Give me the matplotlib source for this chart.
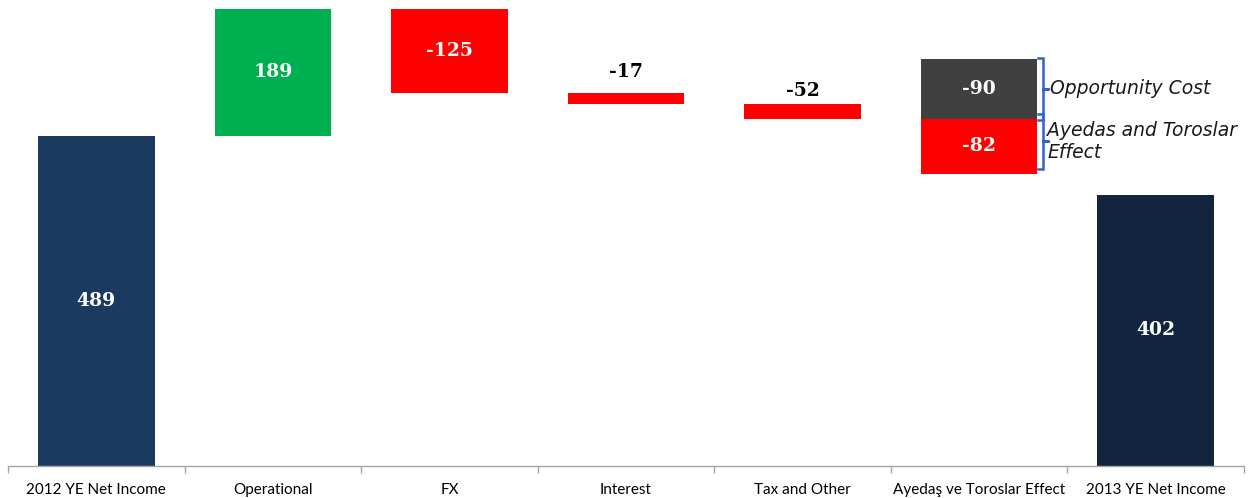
import matplotlib.pyplot as plt
import numpy as np

# waterfall bridge 2012 -> 2013 net income
categories = ["2012 YE Net Income", "Operational", "FX", "Interest",
              "Tax and Other", "Ayedaş ve Toroslar Effect", "2013 YE Net Income"]

# bar segments as drawn: (category index, bottom, top, value label)
seg_pos = [0, 1, 2, 3, 4, 5, 5, 6]
seg_bottom = [0, 489, 553, 536, 514, 514, 433, 0]
seg_top = [489, 677, 677, 553, 536, 603, 514, 402]
seg_value = [489, 189, -125, -17, -52, -90, -82, 402]
seg_color = ["#1B3A5F", "#00B050", "#FF0000", "#FF0000", "#FF0000",
             "#404040", "#FF0000", "#13243F"]
label_inside = [True, True, True, False, False, True, True, True]
label_gap = [0, 0, 0, 17, 6, 0, 0, 0]  # gap above small bars, data units

brace_labels = ["Opportunity Cost", "Ayedas and Toroslar\nEffect"]
brace_segs = [5, 6]  # which segments the braces mark

fig = plt.figure(figsize=(12.52, 4.98), dpi=100)
ax = fig.add_axes([8 / 1252, 32 / 498, 1236 / 1252, 466 / 498])

w = 0.66
for p, b, t, v, c, inside, g in zip(seg_pos, seg_bottom, seg_top, seg_value,
                                    seg_color, label_inside, label_gap):
    ax.bar(p, t - b, bottom=b, width=w, color=c, edgecolor="none")
    if inside:
        ax.text(p, (b + t) / 2, f"{v}", ha="center", va="center", color="white",
                fontsize=13.5, fontweight="bold", family="DejaVu Serif")
    else:
        ax.text(p, t + g, f"{v}", ha="center", va="bottom", color="black",
                fontsize=13.5, fontweight="bold", family="DejaVu Serif")

# braces next to the split bar
blue = "#2E64C8"
for s, lab in zip(brace_segs, brace_labels):
    p = seg_pos[s]
    b, t = seg_bottom[s], seg_top[s]
    x0 = p + w / 2 + 0.002
    xs = x0 + 0.03
    xt = xs + 0.035
    if s == 6:
        t = t + 5
        b = b + 9
    m = (b + t) / 2
    ax.plot([x0, xs, xs, xt, xs, xs, x0], [t + 1.5, t + 1.5, m, m, m, b - 1.5, b - 1.5],
            color=blue, lw=1.8, solid_joinstyle="miter")
    ax.text(xt + (0.005 if s == 5 else -0.01), m, lab, ha="left", va="center",
            fontsize=13.5, style="italic", color="#1a1a1a", family="DejaVu Sans",
            linespacing=1.15)

ax.set_xlim(-0.5, len(categories) - 0.5)
ax.set_ylim(0, 690)
ax.set_yticks([])
for sp in ["top", "right", "left"]:
    ax.spines[sp].set_visible(False)
ax.spines["bottom"].set_color("#A6A6A6")
ax.spines["bottom"].set_linewidth(1.0)

ax.set_xticks(np.arange(len(categories)))
ax.set_xticklabels(categories, fontsize=11, family="Lato", color="black")
ax.tick_params(axis="x", which="major", length=0, pad=12)
ax.set_xticks(np.arange(len(categories) + 1) - 0.5, minor=True)
ax.tick_params(axis="x", which="minor", length=5, color="#A6A6A6", width=1.0)

fig.savefig("out.png", dpi=100)
